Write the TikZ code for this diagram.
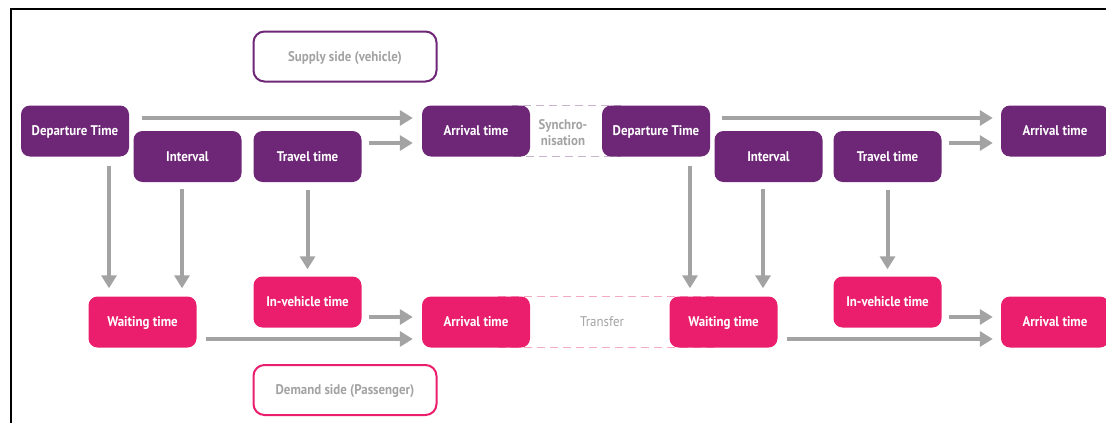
\documentclass[tikz,border=0pt]{standalone}
\usepackage{fontspec}
\setmainfont{PT Sans}[FakeStretch=0.92]
\usepackage{tikz}
\usetikzlibrary{arrows.meta}
\definecolor{supply}{HTML}{6E2677}
\definecolor{demand}{HTML}{EA1E6C}
\definecolor{flowgrey}{HTML}{A3A3A3}
\definecolor{syncline}{HTML}{C9B3CE}
\definecolor{transline}{HTML}{F5AAC4}
\definecolor{labelgrey}{HTML}{A3A3A3}

\begin{document}
\begin{tikzpicture}[x=1pt,y=-1pt,
                    every node/.style={font=\bfseries\fontsize{14}{16}\selectfont}]
  \tikzstyle{supply box}=[rectangle,rounded corners=9pt,fill=supply,text=white,
                          minimum width=108pt,minimum height=51pt,inner sep=0pt,
                          text height=10pt,text depth=1pt]
  \tikzstyle{demand box}=[supply box,fill=demand]
  \tikzstyle{side label}=[rectangle,rounded corners=11pt,draw,line width=2pt,fill=white,
                          text=labelgrey,minimum width=183pt,minimum height=50pt,
                          text height=10pt,text depth=1pt]
  \tikzstyle{flow arrow}=[-{Triangle[length=13pt,width=15pt]},color=flowgrey,line width=4pt]
  \useasboundingbox (0,0) rectangle (1106,423);

  % frame
  \draw[line width=2pt] (10.5,423) -- (10.5,8.5) -- (1106,8.5);

  % dashed links behind the boxes
  \draw[syncline,line width=1pt,dash pattern=on 8pt off 5pt] (512,105.5) rectangle (620,156.5);
  \draw[transline,line width=1pt,dash pattern=on 8pt off 5pt] (497,296.5) rectangle (717,347.5);
  \node[text=labelgrey,align=center] (sync) at (563,133) {Synchro-\\nisation};
  \node[text=labelgrey,font=\fontsize{14}{16}\selectfont,text height=10pt,text depth=1pt]
       (transfer) at (602,322) {Transfer};

  % supply side
  \node[supply box] (dep1)  at (75,131)    {Departure Time};
  \node[supply box] (int1)  at (187.5,156.5) {Interval};
  \node[supply box] (trav1) at (307.5,156.5) {Travel time};
  \node[supply box] (arr1)  at (476,131)   {Arrival time};
  \node[supply box] (dep2)  at (656,131)   {Departure Time};
  \node[supply box] (int2)  at (768.5,156.5) {Interval};
  \node[supply box] (trav2) at (887.5,156.5) {Travel time};
  \node[supply box] (arr3)  at (1055,131)  {Arrival time};

  % demand side
  \node[demand box] (wait1)  at (142.5,322) {Waiting time};
  \node[demand box] (inveh1) at (307.5,302) {In-vehicle time};
  \node[demand box] (arr2)   at (476,322)   {Arrival time};
  \node[demand box] (wait2)  at (723.5,322) {Waiting time};
  \node[demand box] (inveh2) at (887.5,302) {In-vehicle time};
  \node[demand box] (arr4)   at (1055,322)  {Arrival time};

  \node[side label,draw=supply] (supplyside) at (345,56.5) {Supply side (vehicle)};
  \node[side label,draw=demand] (demandside) at (345,390) {Demand side (Passenger)};

  \path[flow arrow]
        ([yshift=13pt]dep1.east)    edge[shorten <=13pt,shorten >=9pt] ([yshift=13pt]arr1.west)
        ([yshift=13.5pt]trav1.east) edge[shorten <=7pt,shorten >=9pt] ([yshift=-12pt]arr1.west)
        ([xshift=34pt]dep1.south)   edge[shorten <=9pt,shorten >=8pt] ([xshift=-33.5pt]wait1.north)
        ([xshift=-5.5pt]int1.south) edge[shorten <=7pt,shorten >=8pt] ([xshift=39.5pt]wait1.north)
        (trav1.south)               edge[shorten <=8pt,shorten >=7pt] (inveh1.north)
        ([yshift=-15pt]inveh1.east) edge[shorten <=7pt,shorten >=9pt] ([yshift=5pt]arr2.west)
        ([yshift=-17pt]wait1.east)  edge[shorten <=9pt,shorten >=9pt] ([yshift=-17pt]arr2.west)
        ([yshift=13pt]dep2.east)    edge[shorten <=12pt,shorten >=8pt] ([yshift=13pt]arr3.west)
        ([yshift=13.5pt]trav2.east) edge[shorten <=7pt,shorten >=8pt] ([yshift=-12pt]arr3.west)
        ([xshift=34pt]dep2.south)   edge[shorten <=9pt,shorten >=8pt] ([xshift=-33.5pt]wait2.north)
        ([xshift=-5.5pt]int2.south) edge[shorten <=7pt,shorten >=8pt] ([xshift=39.5pt]wait2.north)
        (trav2.south)               edge[shorten <=8pt,shorten >=7pt] (inveh2.north)
        ([yshift=-15pt]inveh2.east) edge[shorten <=7pt,shorten >=8pt] ([yshift=5pt]arr4.west)
        ([yshift=-17pt]wait2.east)  edge[shorten <=9pt,shorten >=8pt] ([yshift=-17pt]arr4.west);
\end{tikzpicture}
\end{document}
